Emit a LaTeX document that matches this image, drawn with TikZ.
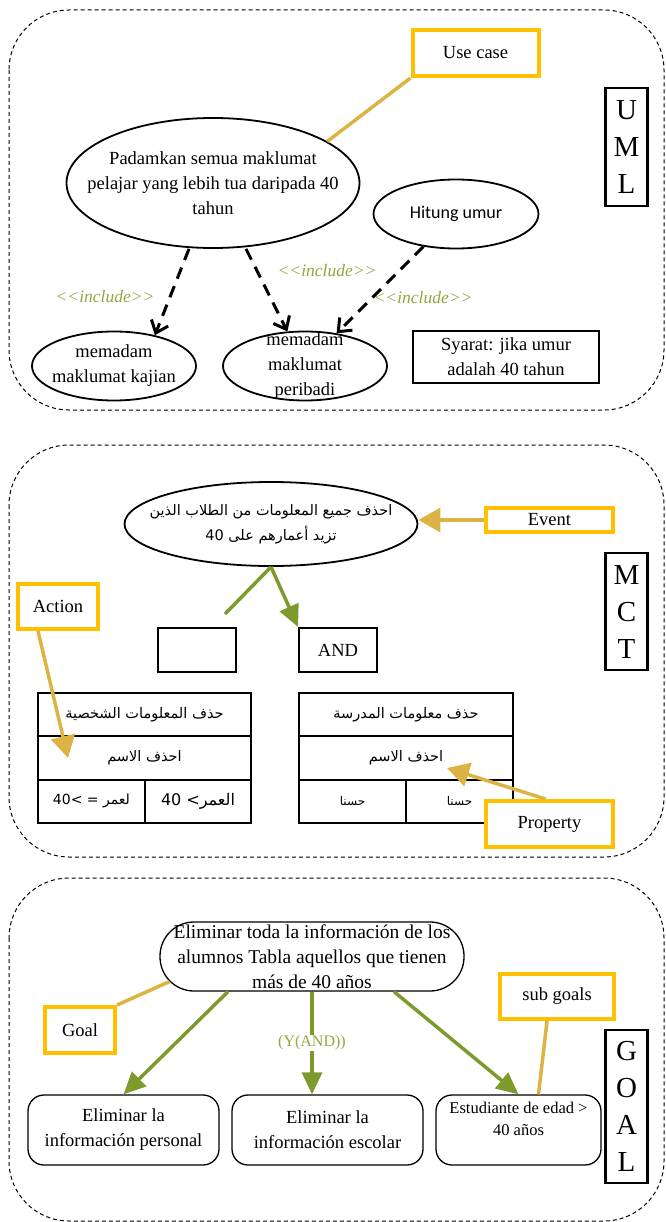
\documentclass[tikz,border=0pt]{standalone}
\usepackage{fontspec}
\setmainfont{Liberation Serif}
\newfontfamily\arabicfont[Script=Arabic]{DejaVu Sans}
\newfontfamily\latinsans{DejaVu Sans}
\newfontfamily\calibrifont{Carlito}
\TeXXeTstate=1
\usetikzlibrary{shapes.geometric,arrows.meta}
\definecolor{tagyellow}{HTML}{FFC000}
\definecolor{callgold}{HTML}{DDB443}
\definecolor{olivegreen}{HTML}{7D9A2C}
\definecolor{olivetext}{HTML}{8FA83E}
\newcommand{\artxt}[1]{{\arabicfont\beginR #1\endR}}
\tikzset{
  panel/.style={draw, line width=1pt, dash pattern=on 4pt off 3pt, rounded corners=60pt},
  ucase/.style={draw, ellipse, line width=1.8pt, inner xsep=-45pt, inner ysep=-22pt, align=center},
  tagbox/.style={draw=tagyellow, line width=4pt, inner sep=0pt},
  blackbox/.style={draw, line width=1.8pt, inner sep=0pt, align=center},
  sidebox/.style={draw, line width=2.5pt, inner sep=0pt, align=center, minimum width=42pt, font=\fontsize{29}{37}\selectfont},
  goalbox/.style={draw, line width=1.3pt, rounded corners=16pt, inner sep=0pt, align=center},
  cell/.style={draw, line width=2pt, inner sep=0pt, minimum height=43.3pt, font=\arabicfont\fontsize{14.5}{18}\selectfont},
  callout/.style={draw=callgold, line width=3.5pt},
  callarrow/.style={callout, -{Triangle[length=22pt,width=24pt]}},
  andarrow/.style={draw=olivegreen, line width=3.5pt, -{Triangle[length=22pt,width=20pt]}},
  incarrow/.style={line width=3pt, dash pattern=on 12pt off 8pt, -{Straight Barb[length=11pt,width=18pt,line width=3pt]}},
  incl/.style={text=olivetext, font=\fontsize{17.5}{20}\selectfont\itshape},
  andlabel/.style={fill=white, text=olivetext, inner sep=1pt, font=\fontsize{16}{18}\selectfont},
}
\begin{document}
\begin{tikzpicture}[x=1pt,y=-1pt,font=\fontsize{18.5}{25}\selectfont]
  \useasboundingbox (0,0) rectangle (665,1222);
  \draw[panel] (9,10) rectangle (664,410);
  \node[tagbox, minimum width=126pt, minimum height=46pt] (uc) at (475.5,53) {Use case};
  \node[ucase, minimum width=293pt, minimum height=130pt] (pad) at (213,183) {Padamkan semua maklumat\\pelajar yang lebih tua daripada 40\\tahun};
  \node[ucase, minimum width=165pt, minimum height=69pt, font=\calibrifont\fontsize{18}{22}\selectfont] (hit) at (456,214) {Hitung umur};
  \node[sidebox, minimum height=118pt] (uml) at (626.5,147) {U\\M\\L};
  \node[ucase, minimum width=164pt, minimum height=69pt] (kaj) at (114,366) {memadam\\maklumat kajian};
  \node[ucase, minimum width=164pt, minimum height=69pt] (peri) at (305,366) {memadam\\maklumat\\peribadi};
  \node[blackbox, minimum width=186pt, minimum height=52pt] (syr) at (506,357) {Syarat: jika umur\\adalah 40 tahun};
  \node[incl] (inc1) at (105,297) {<\kern0pt<include>\kern0pt>};
  \node[incl] (inc2) at (327,271) {<\kern0pt<include>\kern0pt>};
  \node[incl] (inc3) at (423,298) {<\kern0pt<include>\kern0pt>};
  \draw[incarrow] ([xshift=-24pt]pad.south) -- (kaj.37);
  \draw[incarrow] ([xshift=33pt]pad.south) -- (peri.117);
  \draw[incarrow] (hit.225) -- (peri.46);
  \draw[callout] (uc.south west) -- (pad.20);

  \draw[panel] (9,445) rectangle (664,857);
  \node[ucase, minimum width=293pt, minimum height=84pt, font=\arabicfont\fontsize{14.5}{25}\selectfont] (mev) at (271,524) {\artxt{احذف جميع المعلومات من الطلاب الذين}\\\artxt{تزيد أعمارهم على 40}};
  \node[tagbox, minimum width=127pt, minimum height=24pt] (ev) at (549.5,520) {Event};
  \node[sidebox, minimum height=117pt] (mct) at (626.5,611.5) {M\\C\\T};
  \node[tagbox, minimum width=80pt, minimum height=45pt] (act) at (58,606.5) {Action};
  \node[blackbox, minimum width=78pt, minimum height=44pt] (blank) at (197,650) {};
  \node[blackbox, minimum width=78pt, minimum height=44pt] (and) at (338,650) {AND};
  \node[cell, minimum width=213pt] (lname) at (144.5,714.7) {\artxt{حذف المعلومات الشخصية}};
  \node[cell, minimum width=213pt] (lact) at (144.5,758) {\artxt{احذف الاسم}};
  \node[cell, minimum width=107pt, font=\fontsize{14}{18}\selectfont] (lle) at (91.5,801.3) {{\latinsans 40< = }\artxt{لعمر}};
  \node[cell, minimum width=106pt, font=\fontsize{16}{18}\selectfont] (lgt) at (198,801.3) {{\latinsans 40 <}\artxt{العمر}};
  \node[cell, minimum width=214pt] (rname) at (406,714.7) {\artxt{حذف معلومات المدرسة}};
  \node[cell, minimum width=214pt] (ract) at (406,758) {\artxt{احذف الاسم}};
  \node[cell, minimum width=107pt, font=\arabicfont\fontsize{12}{16}\selectfont] (rok1) at (352.5,801.3) {\artxt{حسنا}};
  \node[cell, minimum width=107pt, font=\arabicfont\fontsize{12}{16}\selectfont] (rok2) at (459.5,801.3) {\artxt{حسنا}};
  \node[tagbox, fill=white, minimum width=127pt, minimum height=46pt] (prop) at (549.5,824) {Property};
  \coordinate (actend) at (68,758);
  \coordinate (propend) at (447,768);
  \coordinate (forkend) at (225,614);
  \draw[callarrow] (ev.west) -- (ev.west -| mev.east);
  \draw[callarrow] ([xshift=-20pt]act.south) -- (actend);
  \draw[callarrow] ([xshift=-4pt]prop.north) -- (propend);
  \draw[olivegreen, line width=3.5pt] (mev.south) -- (forkend);
  \draw[andarrow] (mev.south) -- (and.north west);

  \draw[panel] (9,878) rectangle (664,1221);
  \node[goalbox, rounded corners=34pt, minimum width=304pt, minimum height=69pt, font=\fontsize{19.5}{25}\selectfont] (elim) at (312,956.5) {Eliminar toda la información de los\\alumnos Tabla aquellos que tienen\\más de 40 años};
  \node[tagbox, minimum width=70pt, minimum height=46pt] (goal) at (80,1030) {Goal};
  \node[tagbox, minimum width=114pt, minimum height=45pt] (sub) at (557,996.5) {sub goals};
  \node[sidebox, minimum height=153pt] (goalside) at (626.5,1106.5) {G\\O\\A\\L};
  \node[goalbox, minimum width=191pt, minimum height=70pt] (pers) at (123.5,1130) {Eliminar la\\información personal};
  \node[goalbox, minimum width=191pt, minimum height=70pt] (esc) at (327.5,1130) {Eliminar la\\información escolar};
  \node[goalbox, minimum width=165pt, minimum height=70pt, font=\fontsize{16.5}{22}\selectfont] (edad) at (518.5,1130) {Estudiante de edad >\\40 años\\~};
  \draw[andarrow] ([xshift=-84pt]elim.south) -- (pers.north);
  \draw[andarrow] (elim.south) -- node[andlabel] (yand) {(Y(AND))} (elim.south |- esc.north);
  \draw[andarrow] ([xshift=82pt]elim.south) -- (edad.north);
  \draw[callout] (goal.north east) -- ([xshift=10pt,yshift=10pt]elim.south west);
  \draw[callout] ([xshift=-10pt]sub.south) -- ([xshift=20pt]edad.north);
\end{tikzpicture}
\end{document}
